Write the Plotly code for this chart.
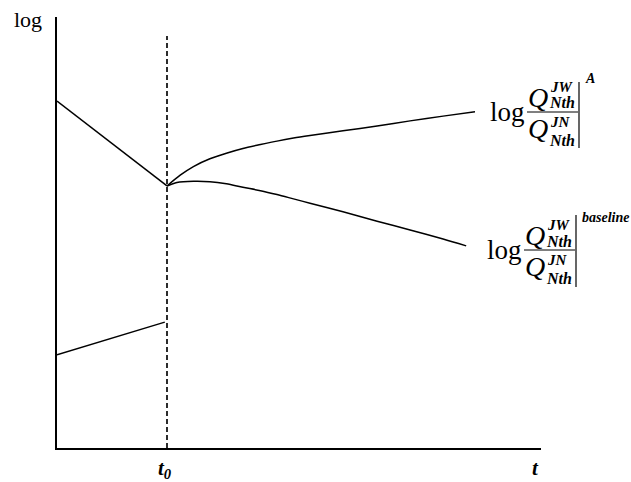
import plotly.graph_objects as go

# --- data (time in units of t0, value on log scale) ---
t0 = 1.0
t_max = 4.4
y_max = 10.0

# pre-t0 trajectories
pre_upper_t = [0.0, 1.0]
pre_upper_v = [8.05, 6.08]
pre_lower_t = [0.0, 0.98]
pre_lower_v = [2.16, 2.92]

# post-t0 trajectory under policy A
post_a_t = [1.0, 1.12, 1.24, 1.39, 1.54, 1.69, 1.85, 2.0, 2.15, 2.3, 2.6, 2.91, 3.21, 3.51, 3.8]
post_a_v = [6.08, 6.33, 6.53, 6.71, 6.84, 6.95, 7.04, 7.12, 7.19, 7.25, 7.36, 7.47, 7.59, 7.70, 7.80]

# post-t0 baseline trajectory
post_b_t = [1.0, 1.09, 1.24, 1.39, 1.54, 1.69, 1.85, 2.0, 2.15, 2.3, 2.6, 2.91, 3.21, 3.51, 3.72]
post_b_v = [6.08, 6.16, 6.19, 6.18, 6.13, 6.05, 5.97, 5.88, 5.78, 5.68, 5.48, 5.26, 5.06, 4.85, 4.69]

t0_marker_top = 9.56

W, H = 631, 482
ML, MR, MT, MB = 57, 90, 17, 34
PW, PH = W - ML - MR, H - MT - MB

SERIF = "Liberation Serif, Times New Roman, serif"


def px(x, y):
    """Pixel position -> paper coordinates."""
    return (x - ML) / PW, (H - MB - y) / PH


line = dict(color="black", width=1.5)

fig = go.Figure()
for xs, ys in [(pre_upper_t, pre_upper_v), (pre_lower_t, pre_lower_v)]:
    fig.add_trace(go.Scatter(x=xs, y=ys, mode="lines", line=line))
fig.add_trace(go.Scatter(x=post_a_t, y=post_a_v, mode="lines", line=dict(line, shape="spline", smoothing=0.8)))
fig.add_trace(go.Scatter(x=post_b_t, y=post_b_v, mode="lines", line=dict(line, shape="spline", smoothing=0.8)))
fig.add_trace(go.Scatter(x=[t0, t0], y=[0, t0_marker_top], mode="lines",
                         line=dict(color="#222222", width=1.9, dash="5px,3px")))

annotations = []
shapes = []


def text(x, y, s, size, xanchor="center"):
    ax, ay = px(x, y)
    annotations.append(dict(x=ax, y=ay, xref="paper", yref="paper", text=s, showarrow=False,
                            xanchor=xanchor, yanchor="middle",
                            font=dict(family=SERIF, size=size, color="black")))


def ratio_label(bx, by, sup, sup_size, bar_top, bar_bot):
    """log Q^JW_Nth / Q^JN_Nth |^sup with the fraction bar starting at (bx, by)."""
    text(bx - 19.5, by, "log", 27)
    text(bx + 10.5, by - 14, "<i>Q</i>", 28)
    text(bx + 10.5, by + 16, "<i>Q</i>", 28)
    text(bx + 21, by - 25, "<b><i>JW</i></b>", 15, "left")
    text(bx + 20, by - 9, "<b><i>Nth</i></b>", 16, "left")
    text(bx + 21, by + 10, "<b><i>JN</i></b>", 15, "left")
    text(bx + 20, by + 28, "<b><i>Nth</i></b>", 16, "left")
    text(bx + 56, by - 33, f"<b><i>{sup}</i></b>", sup_size, "left")
    x0, y0 = px(bx, by)
    x1, _ = px(bx + 51, by)
    shapes.append(dict(type="line", xref="paper", yref="paper", x0=x0, x1=x1, y0=y0, y1=y0,
                       line=dict(color="black", width=1)))
    vx, vt = px(bx + 52, by + bar_top)
    _, vb = px(bx + 52, by + bar_bot)
    shapes.append(dict(type="line", xref="paper", yref="paper", x0=vx, x1=vx, y0=vt, y1=vb,
                       line=dict(color="black", width=1.2)))


ratio_label(527, 112, "A", 14, -30, 36)
ratio_label(524, 250, "baseline", 14, -35, 37)

text(28, 19, "log", 22)
text(165, 469, "<b><i>t<sub>0</sub></i></b>", 21)
text(535, 468, "<b><i>t</i></b>", 21)

fig.update_layout(
    width=W, height=H,
    margin=dict(l=ML, r=MR, t=MT, b=MB),
    paper_bgcolor="white", plot_bgcolor="white",
    showlegend=False,
    annotations=annotations, shapes=shapes,
    xaxis=dict(range=[0, t_max], showgrid=False, zeroline=False, showticklabels=False, ticks="",
               showline=True, linecolor="black", linewidth=1.6),
    yaxis=dict(range=[0, y_max], showgrid=False, zeroline=False, showticklabels=False, ticks="",
               showline=True, linecolor="black", linewidth=1.6),
)

fig.write_html("out.html")
